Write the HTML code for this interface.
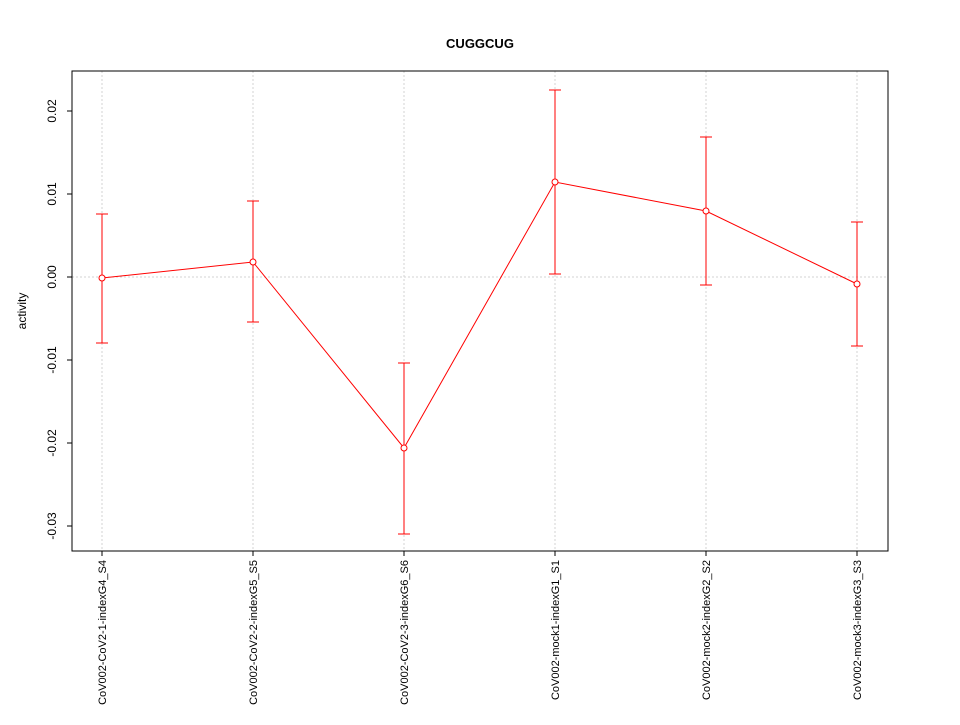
<!DOCTYPE html>
<html><head><meta charset="utf-8"><style>html,body{margin:0;padding:0;background:#fff}</style></head>
<body>
<svg width="960" height="720" xmlns="http://www.w3.org/2000/svg" font-family="Liberation Sans, sans-serif">
<rect width="960" height="720" fill="#fff"/>
<text x="480" y="48" text-anchor="middle" font-weight="bold" font-size="13">CUGGCUG</text>
<g stroke="#d3d3d3" stroke-dasharray="2,2" stroke-width="1">
<line x1="102" y1="71" x2="102" y2="551"/><line x1="253" y1="71" x2="253" y2="551"/>
<line x1="404" y1="71" x2="404" y2="551"/><line x1="555" y1="71" x2="555" y2="551"/>
<line x1="706" y1="71" x2="706" y2="551"/><line x1="857" y1="71" x2="857" y2="551"/>
<line x1="72" y1="277" x2="888" y2="277"/>
</g>
<rect x="72" y="71" width="816" height="480" fill="none" stroke="#000"/>
<g stroke="#000">
<line x1="67" y1="111" x2="72" y2="111"/><line x1="67" y1="194" x2="72" y2="194"/>
<line x1="67" y1="277" x2="72" y2="277"/><line x1="67" y1="360" x2="72" y2="360"/>
<line x1="67" y1="443" x2="72" y2="443"/><line x1="67" y1="526" x2="72" y2="526"/>
<line x1="102" y1="551" x2="102" y2="556"/><line x1="253" y1="551" x2="253" y2="556"/>
<line x1="404" y1="551" x2="404" y2="556"/><line x1="555" y1="551" x2="555" y2="556"/>
<line x1="706" y1="551" x2="706" y2="556"/><line x1="857" y1="551" x2="857" y2="556"/>
</g>
<g font-size="12" text-anchor="middle">
<text transform="translate(56,111) rotate(-90)">0.02</text>
<text transform="translate(56,194) rotate(-90)">0.01</text>
<text transform="translate(56,277) rotate(-90)">0.00</text>
<text transform="translate(56,360) rotate(-90)">-0.01</text>
<text transform="translate(56,443) rotate(-90)">-0.02</text>
<text transform="translate(56,526) rotate(-90)">-0.03</text>
<text transform="translate(26,311) rotate(-90)">activity</text>
</g>
<g font-size="11" text-anchor="end">
<text transform="translate(106,560) rotate(-90)">CoV002-CoV2-1-indexG4_S4</text>
<text transform="translate(257,560) rotate(-90)">CoV002-CoV2-2-indexG5_S5</text>
<text transform="translate(408,560) rotate(-90)">CoV002-CoV2-3-indexG6_S6</text>
<text transform="translate(559,560) rotate(-90)">CoV002-mock1-indexG1_S1</text>
<text transform="translate(710,560) rotate(-90)">CoV002-mock2-indexG2_S2</text>
<text transform="translate(861,560) rotate(-90)">CoV002-mock3-indexG3_S3</text>
</g>
<g stroke="#f00" fill="none" stroke-width="1">
<polyline points="102,278 253,262 404,448 555,182 706,211 857,284"/>
<path d="M102,214V343M96,214H108M96,343H108"/>
<path d="M253,201V322M247,201H259M247,322H259"/>
<path d="M404,363V534M398,363H410M398,534H410"/>
<path d="M555,90V274M549,90H561M549,274H561"/>
<path d="M706,137V285M700,137H712M700,285H712"/>
<path d="M857,222V346M851,222H863M851,346H863"/>
<g fill="#fff">
<circle cx="102" cy="278" r="3"/><circle cx="253" cy="262" r="3"/><circle cx="404" cy="448" r="3"/>
<circle cx="555" cy="182" r="3"/><circle cx="706" cy="211" r="3"/><circle cx="857" cy="284" r="3"/>
</g>
</g>
</svg>
</body></html>
